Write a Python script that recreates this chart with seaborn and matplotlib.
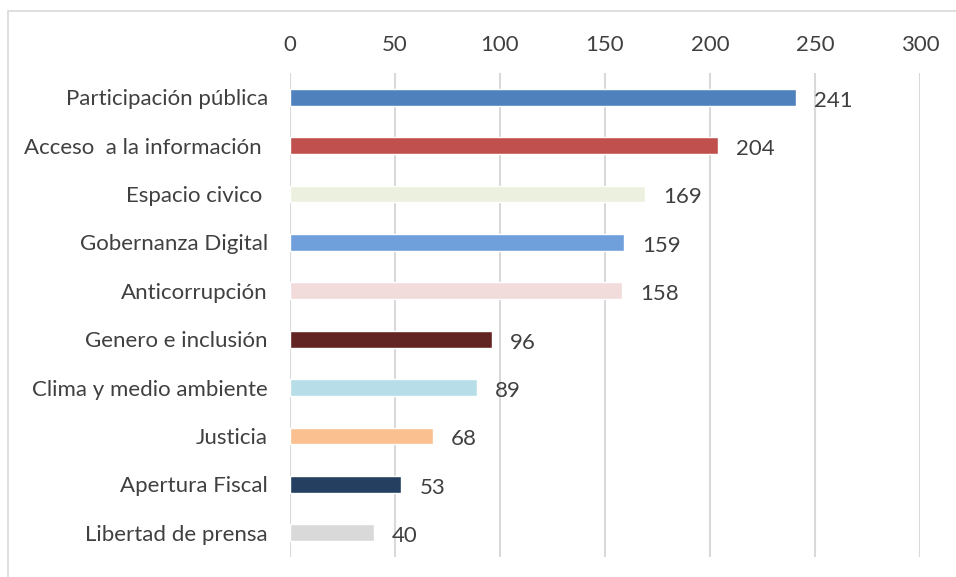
import matplotlib
matplotlib.use('Agg')
import matplotlib.pyplot as plt
import seaborn as sns
from matplotlib.patches import Rectangle

categories = ['Participación pública', 'Acceso  a la información ', 'Espacio civico ',
              'Gobernanza Digital', 'Anticorrupción', 'Genero e inclusión',
              'Clima y medio ambiente', 'Justicia', 'Apertura Fiscal', 'Libertad de prensa']
values = [241, 204, 169, 159, 158, 96, 89, 68, 53, 40]
colors = ['#4F81BD', '#C0504D', '#EBF1DE', '#6FA0DC', '#F2DCDB',
          '#632523', '#B7DEE8', '#FAC090', '#243F60', '#D9D9D9']
x_ticks = [0, 50, 100, 150, 200, 250, 300]

sns.set_theme(style='white')
plt.rcParams['font.family'] = ['Lato', 'DejaVu Sans']
text_color = '#404040'
fs = 16

fig = plt.figure(figsize=(9.56, 5.77), dpi=100)
ax = fig.add_axes([290 / 956, 20 / 577, 630 / 956, 484 / 577])

ax = sns.barplot(x=values, y=categories, hue=categories, palette=colors,
                 legend=False, width=0.35, orient='h', ax=ax, saturation=1)

ax.set_xlim(0, 300)
ax.set_xticks(x_ticks)
ax.xaxis.tick_top()
ax.tick_params(axis='x', length=0, pad=13, labelsize=fs, labelcolor=text_color)
ax.tick_params(axis='y', length=0, pad=16, labelsize=fs, labelcolor=text_color)
ax.set_xlabel('')
ax.set_ylabel('')
ax.grid(axis='x', color='#D9D9D9', linewidth=1.5)
ax.set_axisbelow(True)
for s in ax.spines.values():
    s.set_visible(False)

for c in ax.containers:
    labels = ax.bar_label(c, padding=13, fontsize=fs, color=text_color)
    for t in labels:
        t.xyann = (13, -2.5)

fig.patches.append(Rectangle((8 / 956, -0.1), 1.2, (577 - 11) / 577 + 0.1,
                             transform=fig.transFigure, fill=False,
                             edgecolor='#D9D9D9', linewidth=1.2))

fig.savefig('out.png', dpi=100)
